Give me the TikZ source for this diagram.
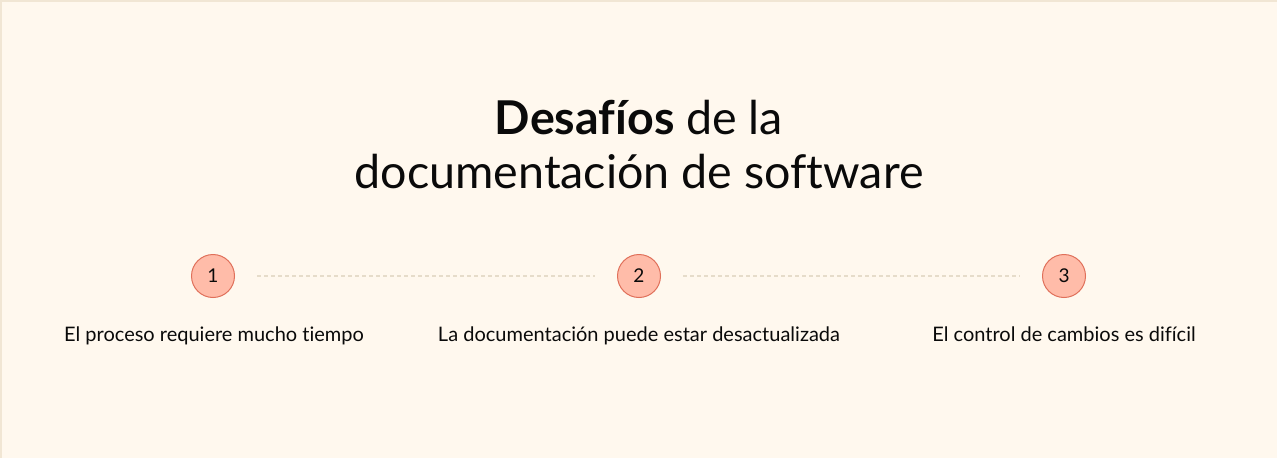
\documentclass[tikz,border=0pt]{standalone}
\usepackage{fontspec}
\setmainfont{Lato}[Ligatures=NoCommon]
\definecolor{bg}{HTML}{FFF8EE}
\definecolor{edge}{HTML}{F1E6D4}
\definecolor{circfill}{HTML}{FFBCA9}
\definecolor{circdraw}{HTML}{E0705A}
\definecolor{dashc}{HTML}{E6DCCA}
\definecolor{txt}{HTML}{0A0A0A}
\begin{document}
\begin{tikzpicture}[x=1pt,y=-1pt,
  numc/.style={circle,fill=circfill,draw=circdraw,line width=1pt,minimum size=43pt,inner sep=0pt,text=txt,font=\fontsize{19}{22}\selectfont},
  lbl/.style={text=txt,font=\fontsize{20}{24}\selectfont,anchor=base},
  conn/.style={dashc,line width=1.2pt,dash pattern=on 4pt off 3pt}]
\useasboundingbox (0,0) rectangle (1277,458);
\fill[bg] (0,0) rectangle (1277,458);
\fill[edge] (0,0) rectangle (1277,2);
\fill[edge] (0,0) rectangle (2,458);
\node[text=txt,font=\fontsize{46.6}{54}\selectfont,anchor=base] (t1) at (639,134) {\textbf{Desafíos} de la};
\node[text=txt,font=\fontsize{46.6}{54}\selectfont,anchor=base] (t2) at (639,188) {documentación de software};
\node[numc] (c1) at (213,276) {1};
\node[numc] (c2) at (639,276) {2};
\node[numc] (c3) at (1064,276) {3};
\draw[conn] ([xshift=22pt]c1.east) -- ([xshift=-22pt]c2.west);
\draw[conn] ([xshift=22pt]c2.east) -- ([xshift=-22pt]c3.west);
\node[lbl] (l1) at (214,341) {El proceso requiere mucho tiempo};
\node[lbl] (l2) at (639,341) {La documentación puede estar desactualizada};
\node[lbl] (l3) at (1064,341) {El control de cambios es difícil};
\end{tikzpicture}
\end{document}
